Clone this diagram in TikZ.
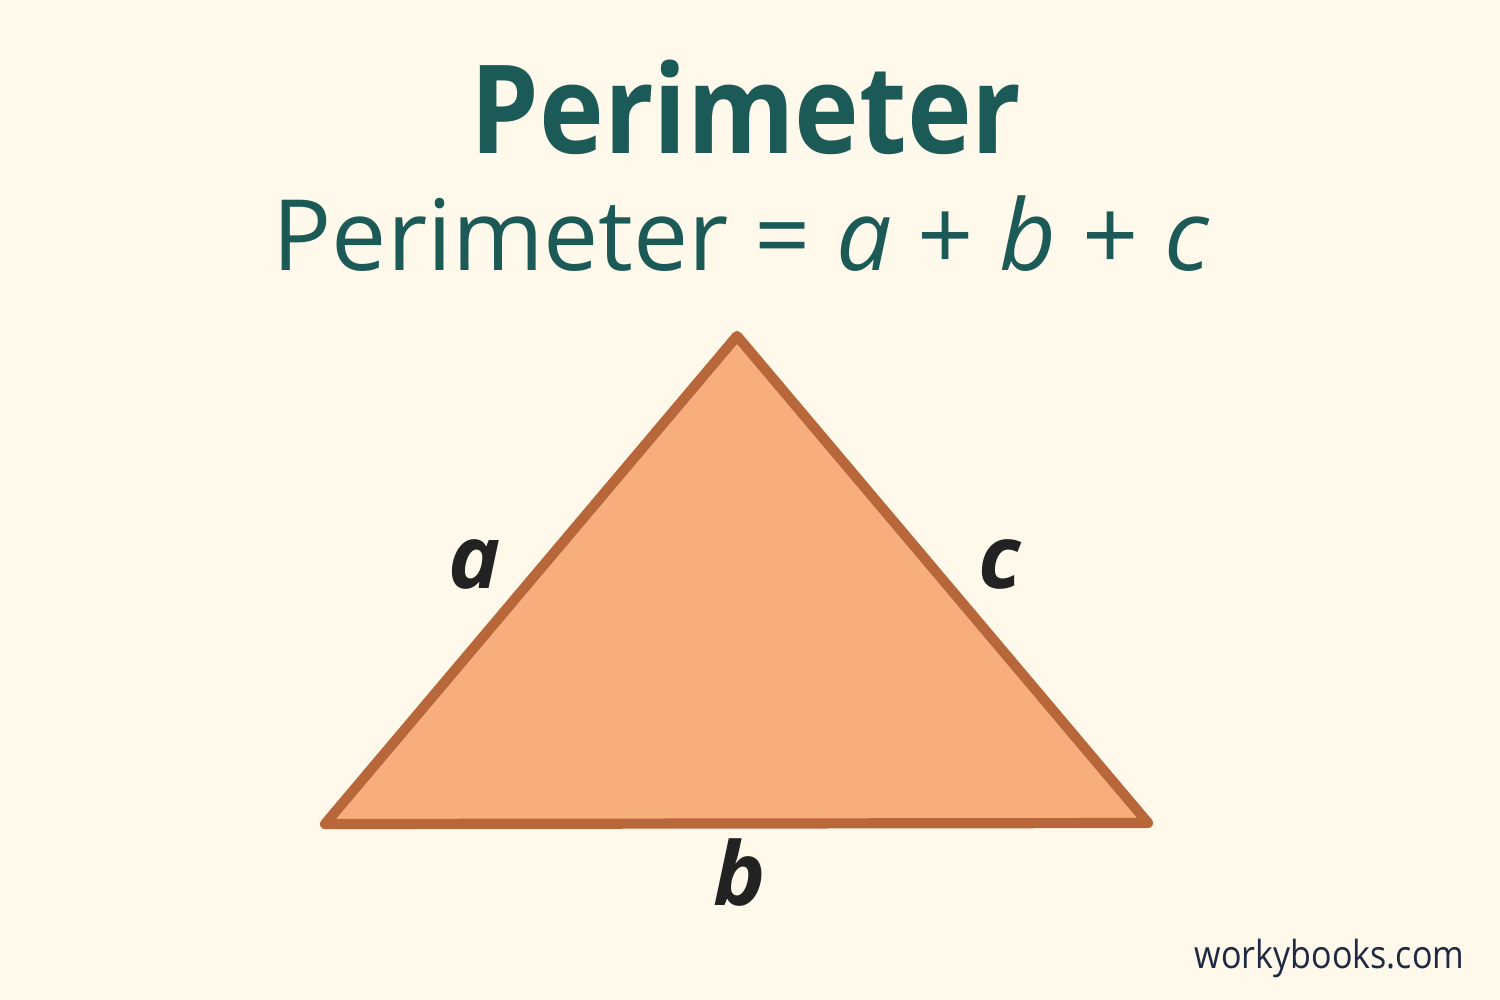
\documentclass[tikz,border=0pt]{standalone}
\usepackage{fontspec}
\usepackage{graphicx}
\setmainfont{Open Sans}
\definecolor{bg}{HTML}{FEF9EA}
\definecolor{titlec}{HTML}{1C5A57}
\definecolor{trifill}{HTML}{F7AE7C}
\definecolor{tristroke}{HTML}{B8673A}
\definecolor{labelc}{HTML}{222222}
\definecolor{markc}{HTML}{1E2A44}
\begin{document}
\begin{tikzpicture}[x=0.01cm,y=-0.01cm,
  titletext/.style={text=titlec,inner sep=0pt,anchor=base},
  sidelabel/.style={text=labelc,inner sep=0pt,anchor=base,font=\fontsize{25}{30}\selectfont\bfseries\itshape}]
\fill[bg] (0,0) rectangle (1500,1000);
\useasboundingbox (0,0) rectangle (1500,1000);
\node[titletext,font=\fontsize{35}{42}\selectfont\bfseries] (title) at (746,153) {\scalebox{0.89}[1]{Perimeter}};
\node[titletext,font=\fontsize{28}{34}\selectfont] (formula) at (741,270) {Perimeter = \textit{a} + \textit{b} + \textit{c}};
\coordinate (A) at (325,824);
\coordinate (B) at (737,336);
\coordinate (C) at (1148,823);
\draw[fill=trifill,draw=tristroke,line width=2.9pt,line join=round] (A) -- (B) -- (C) -- cycle;
\node[sidelabel] (la) at (475,588) {a};
\node[sidelabel] (lc) at (1000,588) {c};
\node[sidelabel] (lb) at (740,905) {b};
\node[text=markc,inner sep=0pt,anchor=base east,font=\fontsize{11}{13}\selectfont] (mark) at (1465,968) {\scalebox{0.88}[1]{workybooks.com}};
\end{tikzpicture}
\end{document}
